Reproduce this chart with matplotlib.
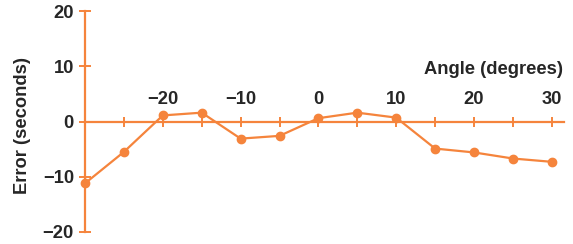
import matplotlib
matplotlib.use("Agg")
import matplotlib.pyplot as plt

angles = [-30, -25, -20, -15, -10, -5, 0, 5, 10, 15, 20, 25, 30]
errors = [-11.2, -5.5, 1.1, 1.6, -3.1, -2.6, 0.6, 1.6, 0.7, -4.9, -5.6, -6.7, -7.3]
x_tick_positions = [-25, -20, -15, -10, -5, 0, 5, 10, 15, 20, 25, 30]
x_label_values = [-20, -10, 0, 10, 20, 30]
y_ticks = [-20, -10, 0, 10, 20]

ORANGE = "#F5843C"
TEXT = "#262626"
FS = 13.2
plt.rcParams['font.family'] = ['Liberation Sans', 'DejaVu Sans']

fig = plt.figure(figsize=(5.73, 2.44), dpi=100)
ax = fig.add_axes([85/573, 12/244, 478.5/573, 221/244])
ax.set_xlim(-30, 31.5)
ax.set_ylim(-20, 20)

ax.plot(angles, errors, color=ORANGE, lw=1.6, marker='o', ms=6, clip_on=False, zorder=3)

for s in ['top', 'right']:
    ax.spines[s].set_visible(False)
ax.spines['bottom'].set_position(('data', 0))
ax.spines['left'].set_position(('data', -30))
for s in ['left', 'bottom']:
    ax.spines[s].set_color(ORANGE)
    ax.spines[s].set_linewidth(1.6)

ax.set_xticks(x_tick_positions)
ax.set_xticklabels([])
ax.tick_params(axis='x', direction='inout', length=7, width=1.4, color=ORANGE)
for v in x_label_values:
    lab = str(v).replace('-', '\u2212')
    ax.annotate(lab, (v, 0), xytext=(0, 13), textcoords='offset pixels',
                ha='center', va='bottom', fontsize=FS, fontweight='bold', color=TEXT)

ax.set_yticks(y_ticks)
ax.set_yticklabels([str(v).replace('-', '\u2212') for v in y_ticks],
                   fontsize=FS, fontweight='bold', color=TEXT)
ax.tick_params(axis='y', direction='inout', length=8, width=1.4, color=ORANGE, pad=4)

fig.text(563/573, 1 - 70/244, "Angle (degrees)", ha='right', va='center',
         fontsize=FS, fontweight='bold', color=TEXT)
fig.text(23/573, 1 - 126/244, "Error (seconds)", ha='center', va='center',
         rotation=90, fontsize=FS, fontweight='bold', color=TEXT)

ax.patch.set_visible(False)
fig.savefig("out.png", dpi=100)
